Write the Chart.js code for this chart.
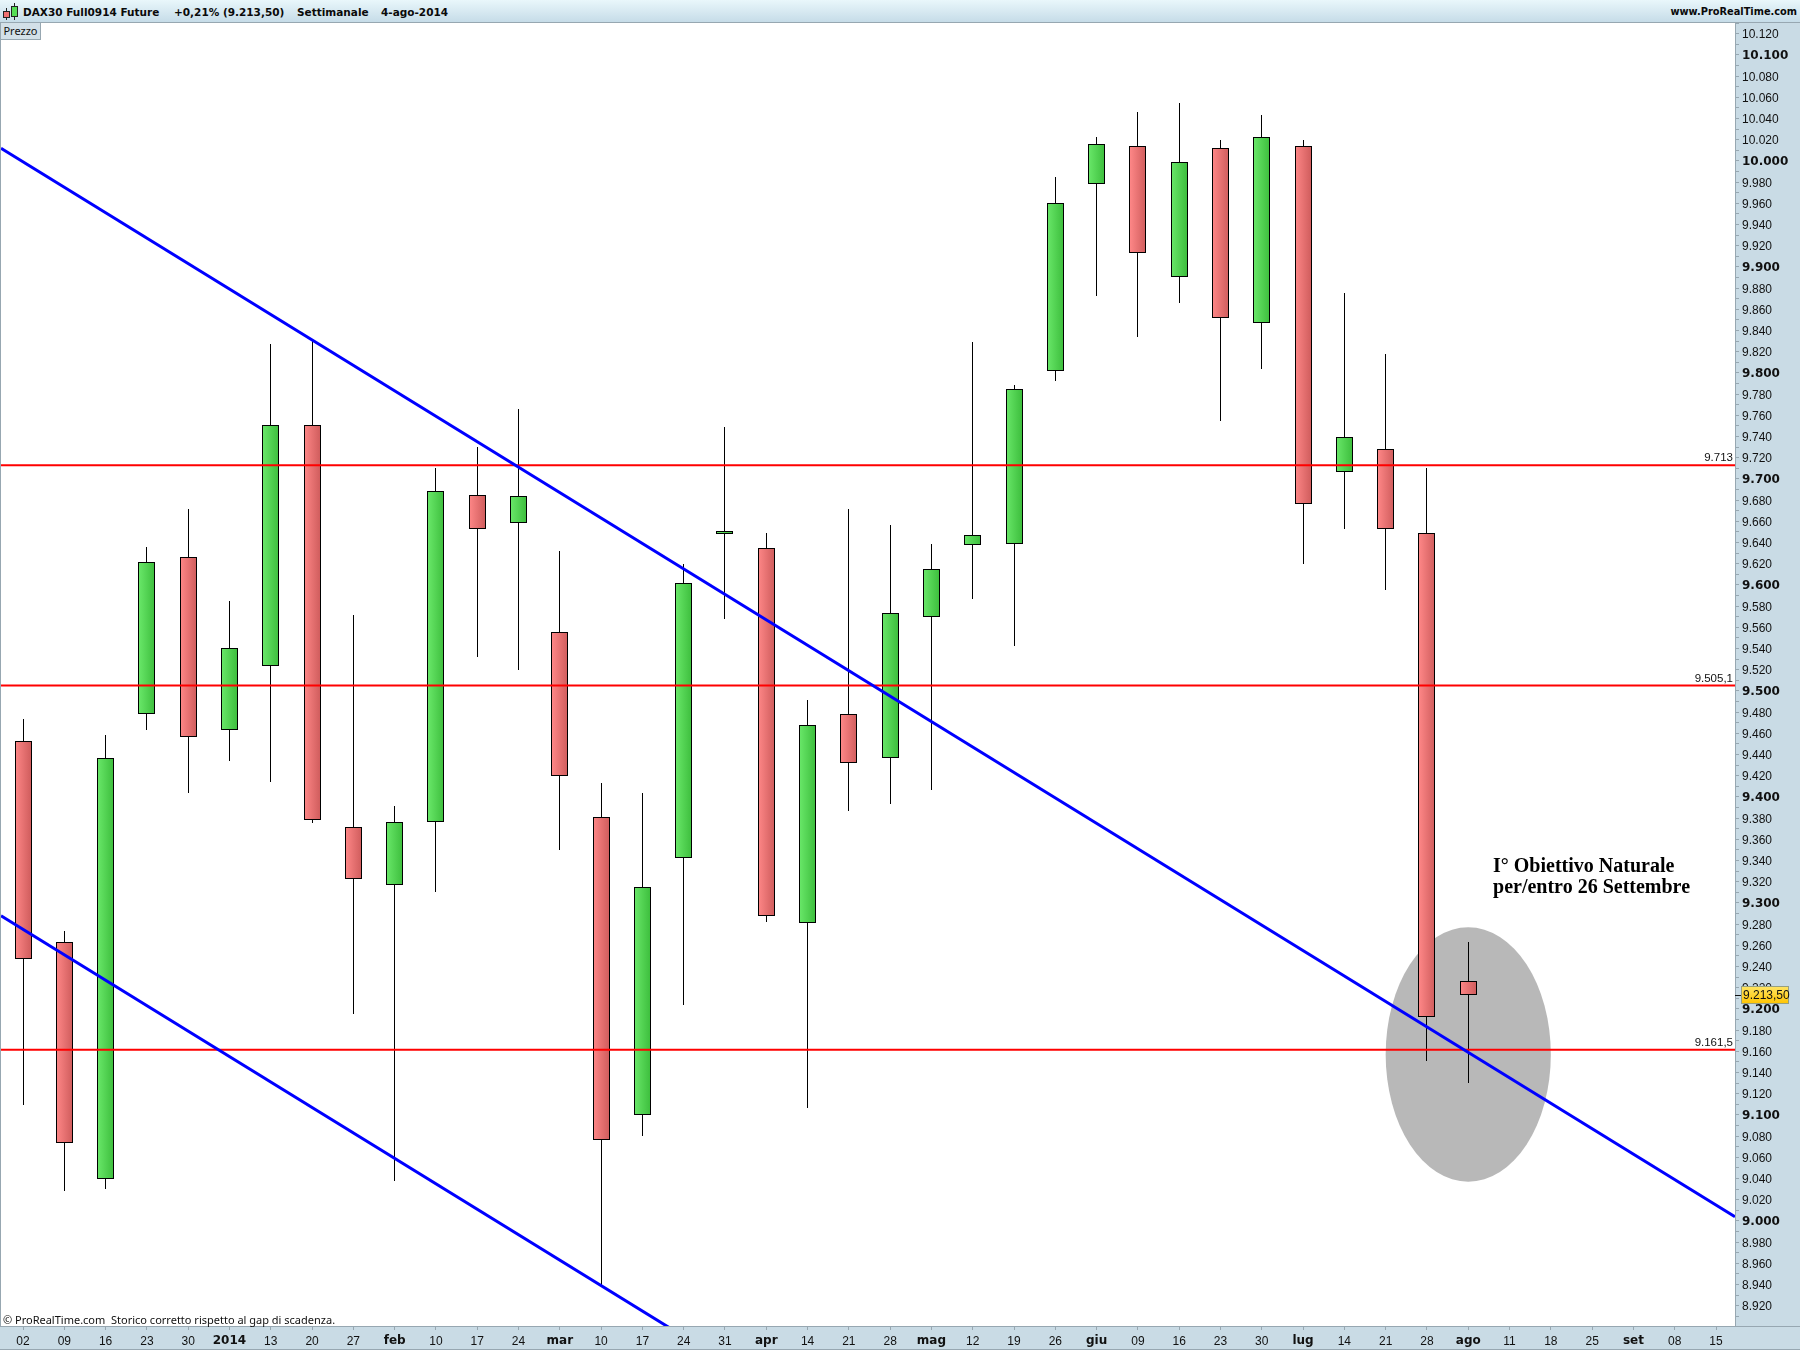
<!DOCTYPE html>
<html>
<head>
<meta charset="utf-8">
<title>DAX30 Full0914 Future</title>
<script src="https://cdn.jsdelivr.net/npm/chart.js@4/dist/chart.umd.js"></script>
<style>
  html, body { margin: 0; padding: 0; background: #fff; }
  #wrap { position: relative; width: 1800px; height: 1350px; overflow: hidden; }
  #chart { position: absolute; left: 0; top: 0; }
  #header {
    position: absolute; left: 0; top: 0; width: 1800px; height: 22px;
    background: linear-gradient(#e9f7fb, #c6dce8);
    border-bottom: 1px solid #97a7b1;
    font: bold 10.5px "DejaVu Sans", sans-serif; color: #0a0a0a;
  }
  #header span { position: absolute; top: 6px; white-space: nowrap; }
  #prezzo {
    position: absolute; left: 1px; top: 23px; width: 39px; height: 16px;
    background: #d3e0e8; border-right: 1px solid #97a7b1; border-bottom: 1px solid #97a7b1;
    font: 11px "Noto Sans", sans-serif; color: #111; text-align: center; line-height: 15px;
  }
  .ic { position: absolute; box-sizing: border-box; border: 1px solid #222; }
  .wk { position: absolute; width: 1px; background: #222; }
</style>
</head>
<body>
<div id="wrap">
  <canvas id="chart" width="1800" height="1350"></canvas>
  <div id="header">
    <div class="wk" style="left:6px;top:8px;height:12px"></div>
    <div class="ic" style="left:3px;top:11px;width:7px;height:7px;background:#f07070"></div>
    <div class="wk" style="left:14px;top:3px;height:17px"></div>
    <div class="ic" style="left:11px;top:6px;width:7px;height:11px;background:#55dd55"></div>
    <span style="left:23px">DAX30 Full0914 Future</span>
    <span style="left:174px">+0,21% (9.213,50)</span>
    <span style="left:297px">Settimanale</span>
    <span style="left:381px">4-ago-2014</span>
    <span style="right:3px;font-size:9.8px">www.ProRealTime.com</span>
  </div>
  <div id="prezzo">Prezzo</div>
</div>

<script>
// weekly axis labels, one per candle slot (future weeks have no candle)
const categories = ["02","09","16","23","30","2014","13","20","27","feb","10","17","24","mar","10","17","24","31","apr","14","21","28","mag","12","19","26","giu","09","16","23","30","lug","14","21","28","ago","11","18","25","set","08","15"];

const opens  = [9453,9263,9040,9478,9626,9463,9524,9751,9372,9317,9376,9685,9658,9556,9381,9100,9342,9648,9635,9281,9478,9437,9570,9638,9639,9802,9978,10014,9891,10012,9847,10014,9707,9728,9649,9226];
const closes = [9247,9074,9437,9622,9457,9541,9751,9378,9323,9376,9689,9653,9684,9420,9076,9315,9602,9651,9288,9468,9432,9574,9615,9647,9785,9960,10016,9913,9999,9852,10023,9676,9740,9653,9192,9213.5];
const highs  = [9474,9274,9458,9636,9672,9585,9827,9830,9572,9391,9710,9730,9766,9632,9413,9404,9620,9749,9649,9491,9672,9657,9639,9829,9789,9985,10023,10046,10055,10020,10043,10020,9875,9818,9710,9263];
const lows   = [9109,9028,9030,9463,9404,9434,9414,9375,9195,9038,9310,9532,9520,9350,8938,9080,9204,9568,9282,9107,9387,9393,9407,9587,9542,9792,9873,9834,9866,9755,9804,9620,9653,9595,9151,9130];

const levels = [9713, 9505.1, 9161.5];
const levelLabels = ["9.713", "9.505,1", "9.161,5"];

const xMin = -0.533, xMax = 41.46;
const yMin = 8900.9, yMax = 10131.1;

const trendUpper = [{ x: xMin, y: 10012 }, { x: xMax, y: 9004 }];
const trendLower = [{ x: xMin, y: 9288 }, { x: 16, y: 8891 }];

const targetEllipse = { x: 35, y: 9157, rx: 2, ry: 120 };
const lastPrice = 9213.5;
const lastPriceLabel = "9.213,50";
const noteLines = ["I° Obiettivo Naturale", "per/entro 26 Settembre"];
const footNote = "© ProRealTime.com  Storico corretto rispetto al gap di scadenza.";

const AXIS_BG = "#c9dbe5";
const AXIS_LINE = "#97a7b1";
const BODY_W = 17;

function fmtPrice(v) {
  const s = String(v);
  return s.length > 3 ? s.slice(0, -3) + "." + s.slice(-3) : s;
}

function bodyFill(ctx) {
  const i = ctx.dataIndex;
  if (i === undefined) return "#ccc";
  const x = ctx.chart.scales.x.getPixelForValue(i);
  if (!isFinite(x)) return "#ccc";
  const g = ctx.chart.ctx.createLinearGradient(x - BODY_W / 2, 0, x + BODY_W / 2, 0);
  if (closes[i] >= opens[i]) {
    g.addColorStop(0, "#6ae86a");
    g.addColorStop(1, "#3cbd3c");
  } else {
    g.addColorStop(0, "#ff8888");
    g.addColorStop(1, "#cf5c5c");
  }
  return g;
}

// keep candles on whole pixels so wicks stay 1px sharp
const snapBars = {
  id: "snapBars",
  afterDatasetsUpdate(chart) {
    chart.data.datasets.forEach((ds, n) => {
      if (ds.type !== "bar") return;
      chart.getDatasetMeta(n).data.forEach(el => {
        el.x = Math.floor(el.x) + 0.5;
        el.y = Math.round(el.y);
        el.base = Math.round(el.base);
      });
    });
  }
};

const backdrop = {
  id: "backdrop",
  beforeDraw(chart) {
    const c = chart.ctx, a = chart.chartArea;
    c.save();
    c.fillStyle = AXIS_BG;
    c.fillRect(0, 0, chart.width, chart.height);
    c.fillStyle = "#fff";
    c.fillRect(a.left, a.top, a.right - a.left, a.bottom - a.top);
    c.fillStyle = AXIS_LINE;
    c.fillRect(0, a.top, 1, a.bottom - a.top);
    c.fillRect(a.right, a.top, 1, a.bottom - a.top);
    c.fillRect(0, a.bottom, chart.width, 1);
    c.fillRect(0, chart.height - 1, chart.width, 1);
    c.restore();
  },
  beforeDatasetsDraw(chart) {
    const c = chart.ctx, sx = chart.scales.x, sy = chart.scales.y;
    const cx = sx.getPixelForValue(targetEllipse.x);
    const cy = sy.getPixelForValue(targetEllipse.y);
    const rx = sx.getPixelForValue(targetEllipse.x + targetEllipse.rx) - cx;
    const ry = cy - sy.getPixelForValue(targetEllipse.y + targetEllipse.ry);
    c.save();
    c.fillStyle = "#b8b8b8";
    c.beginPath();
    c.ellipse(cx, cy, rx, ry, 0, 0, Math.PI * 2);
    c.fill();
    c.restore();
  }
};

const notes = {
  id: "notes",
  afterDraw(chart) {
    const c = chart.ctx, a = chart.chartArea, sy = chart.scales.y, sx = chart.scales.x;
    c.save();
    c.textBaseline = "alphabetic";

    // labels over the horizontal levels
    c.fillStyle = "#111";
    c.font = '11.5px "Liberation Sans", sans-serif';
    c.textAlign = "right";
    levels.forEach((lv, i) => {
      c.fillText(levelLabels[i], a.right - 2, sy.getPixelForValue(lv) - 4);
    });

    // target text
    c.textAlign = "left";
    c.font = 'bold 20px "Liberation Serif", serif';
    c.fillStyle = "#000";
    const tx = sx.getPixelForValue(35.6);
    noteLines.forEach((t, i) => {
      c.fillText(t, tx, sy.getPixelForValue(9329) + i * 21);
    });

    // foot note
    c.font = '11px "Noto Sans", sans-serif';
    c.fillStyle = "#111";
    c.fillText(footNote, 3, a.bottom - 2);

    // last price tag
    const py = Math.round(sy.getPixelForValue(lastPrice));
    c.fillStyle = "#111";
    c.fillRect(a.right, py, 6, 1);
    const g = c.createLinearGradient(0, py - 9, 0, py + 9);
    g.addColorStop(0, "#ffe566");
    g.addColorStop(1, "#ffc400");
    c.fillStyle = g;
    c.fillRect(1741, py - 9, 48, 18);
    c.strokeStyle = "#97a080";
    c.strokeRect(1741.5, py - 8.5, 47, 17);
    c.fillStyle = "#111";
    c.font = '12px "Liberation Sans", sans-serif';
    c.fillText(lastPriceLabel, 1743, py + 4);
    c.restore();
  }
};

new Chart(document.getElementById("chart").getContext("2d"), {
  data: {
    datasets: [
      {
        type: "line",
        data: trendUpper,
        borderColor: "#0000ff",
        borderWidth: 3,
        pointRadius: 0,
        order: 1
      },
      {
        type: "line",
        data: trendLower,
        borderColor: "#0000ff",
        borderWidth: 3,
        pointRadius: 0,
        order: 1
      },
      ...levels.map(lv => ({
        type: "line",
        data: [{ x: xMin, y: lv }, { x: xMax, y: lv }],
        borderColor: "#ff0000",
        borderWidth: 2,
        pointRadius: 0,
        order: 2
      })),
      {
        type: "bar",
        data: opens.map((o, i) => ({ x: i, y: [o, closes[i]] })),
        backgroundColor: bodyFill,
        borderColor: "#000",
        borderWidth: 1,
        borderSkipped: false,
        inflateAmount: 0,
        barThickness: BODY_W,
        grouped: false,
        order: 4
      },
      {
        type: "bar",
        data: lows.map((l, i) => ({ x: i, y: [l, highs[i]] })),
        backgroundColor: "#000",
        borderWidth: 0,
        inflateAmount: 0,
        barThickness: 1,
        grouped: false,
        order: 5
      }
    ]
  },
  options: {
    responsive: false,
    animation: false,
    layout: { autoPadding: false, padding: { left: 1, top: 22, right: 0, bottom: 0 } },
    plugins: { legend: { display: false }, tooltip: { enabled: false } },
    scales: {
      x: {
        type: "linear",
        offset: false,
        min: xMin,
        max: xMax,
        border: { display: false },
        grid: { offset: false, drawOnChartArea: false, tickLength: 4, tickColor: AXIS_LINE },
        afterFit(s) { s.height = 24; },
        afterBuildTicks(s) { s.ticks = categories.map((_, i) => ({ value: i })); },
        ticks: {
          autoSkip: false,
          maxRotation: 0,
          padding: 4,
          color: "#111",
          callback: v => categories[v],
          font: ctx => /^\d\d$/.test(categories[ctx.index] || "")
            ? { family: '"Liberation Sans", sans-serif', size: 12, weight: "normal" }
            : { family: '"DejaVu Sans", sans-serif', size: 12, weight: "bold" }
        }
      },
      y: {
        type: "linear",
        position: "right",
        min: yMin,
        max: yMax,
        border: { display: false },
        grid: { drawOnChartArea: false, tickLength: 4, tickColor: AXIS_LINE },
        afterFit(s) { s.width = 65; },
        afterBuildTicks(s) {
          const t = [];
          for (let v = 8910; v <= 10130; v += 10) t.push({ value: v });
          s.ticks = t;
        },
        ticks: {
          autoSkip: false,
          padding: 3,
          color: "#111",
          // empty first line + small lineHeight nudges the label about 1px down
          callback: v => v % 20 === 0 ? ["", fmtPrice(v)] : "",
          font: ctx => ctx.tick && ctx.tick.value % 100 === 0
            ? { family: '"DejaVu Sans", sans-serif', size: 12, weight: "bold", lineHeight: 0.2 }
            : { family: '"Liberation Sans", sans-serif', size: 12, weight: "normal", lineHeight: 0.2 }
        }
      }
    }
  },
  plugins: [snapBars, backdrop, notes]
});
</script>
</body>
</html>
